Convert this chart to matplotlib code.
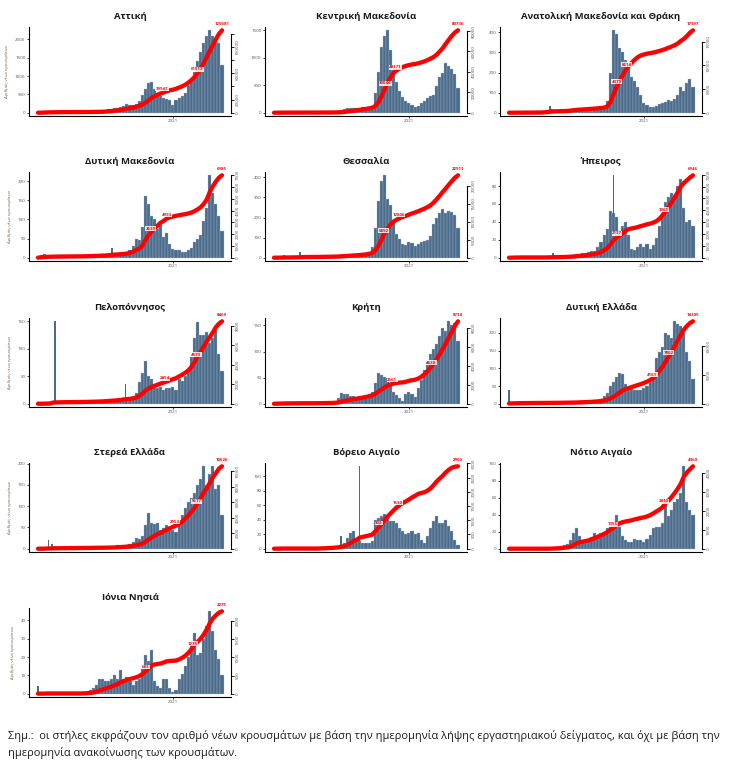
import numpy as np
import pandas as pd
import matplotlib
matplotlib.use("Agg")
import matplotlib.pyplot as plt
import matplotlib.dates as mdates
from matplotlib.ticker import MaxNLocator

plt.rcParams["font.family"] = ["Open Sans", "DejaVu Sans"]

# Weekly bins (start on Monday), Feb 2020 - Apr 2021
weeks = pd.date_range("2020-02-24", periods=61, freq="7D")

regions = ["Αττική", "Κεντρική Μακεδονία", "Ανατολική Μακεδονία και Θράκη",
           "Δυτική Μακεδονία", "Θεσσαλία", "Ήπειρος",
           "Πελοπόννησος", "Κρήτη", "Δυτική Ελλάδα",
           "Στερεά Ελλάδα", "Βόρειο Αιγαίο", "Νότιο Αιγαίο",
           "Ιόνια Νησιά"]

# typical daily new cases in each week (height of the bars)
attiki = [2, 15, 35, 40, 35, 30, 20, 15, 10, 8,
          5, 5, 4, 5, 5, 6, 8, 10, 12, 15,
          20, 30, 60, 90, 110, 120, 130, 150, 190, 240,
          220, 200, 230, 330, 480, 650, 800, 850, 650, 550,
          450, 400, 380, 350, 200, 350, 400, 450, 550, 750,
          850, 1100, 1400, 1650, 1900, 2100, 2250, 2100, 2050, 1900,
          1300]
k_makedonia = [0, 2, 5, 5, 4, 3, 3, 2, 2, 2,
               1, 1, 1, 1, 2, 2, 3, 3, 4, 5,
               10, 15, 30, 60, 80, 80, 90, 80, 90, 100,
               100, 110, 130, 350, 750, 1200, 1400, 1500, 1150, 850,
               550, 400, 290, 220, 170, 140, 100, 130, 180, 220,
               260, 300, 330, 480, 650, 720, 900, 850, 800, 700,
               450]
am_thraki = [0, 0, 1, 1, 1, 1, 1, 1, 1, 1,
             2, 5, 10, 12, 20, 8, 5, 5, 5, 8,
             15, 20, 18, 12, 10, 12, 12, 10, 12, 15,
             15, 20, 60, 200, 410, 390, 320, 300, 260, 220,
             180, 160, 130, 90, 50, 40, 30, 30, 35, 45,
             50, 55, 65, 60, 70, 90, 130, 110, 150, 170,
             130]
d_makedonia = [2, 8, 10, 5, 3, 2, 2, 1, 1, 1,
               1, 1, 1, 1, 1, 1, 2, 3, 3, 3,
               4, 4, 4, 8, 6, 8, 6, 6, 8, 10,
               20, 30, 50, 45, 80, 160, 140, 110, 100, 75,
               85, 55, 65, 35, 22, 20, 20, 15, 15, 20,
               25, 40, 50, 60, 95, 130, 215, 170, 140, 110,
               70]
thessalia = [0, 1, 3, 2, 5, 3, 2, 3, 3, 8,
             3, 2, 2, 2, 2, 2, 3, 3, 3, 4,
             5, 8, 12, 12, 14, 12, 12, 14, 15, 18,
             20, 28, 55, 150, 280, 380, 410, 290, 260, 180,
             120, 95, 70, 65, 80, 75, 60, 70, 80, 85,
             90, 110, 170, 200, 220, 240, 220, 230, 225, 210,
             150]
ipeiros = [0, 0, 2, 1, 1, 0, 0, 0, 0, 0,
           0, 0, 0, 1, 1, 1, 1, 1, 1, 2,
           2, 3, 4, 4, 5, 5, 6, 7, 8, 12,
           18, 25, 32, 52, 50, 45, 30, 35, 40, 25,
           10, 9, 12, 15, 12, 15, 10, 14, 22, 35,
           50, 62, 68, 72, 70, 80, 88, 55, 40, 42,
           35]
peloponnisos = [0, 0, 1, 2, 3, 3, 3, 2, 2, 1,
                1, 1, 1, 1, 1, 1, 2, 2, 2, 2,
                3, 3, 5, 6, 5, 6, 7, 6, 10, 8,
                8, 12, 20, 40, 55, 78, 50, 45, 30, 28,
                30, 25, 28, 28, 30, 25, 45, 42, 50, 60,
                85, 120, 148, 125, 125, 130, 110, 120, 135, 90,
                60]
kriti = [0, 1, 2, 2, 2, 1, 1, 1, 1, 1,
         0, 0, 0, 0, 1, 1, 1, 1, 2, 2,
         3, 10, 20, 18, 18, 15, 14, 13, 14, 15,
         16, 18, 22, 40, 58, 55, 52, 50, 35, 22,
         16, 10, 5, 18, 22, 18, 12, 30, 45, 65,
         80, 95, 105, 115, 130, 145, 140, 158, 150, 155,
         120]
d_ellada = [2, 5, 3, 3, 3, 2, 1, 1, 1, 1,
            1, 1, 1, 1, 1, 1, 1, 2, 2, 2,
            2, 2, 3, 4, 5, 5, 6, 6, 8, 10,
            12, 22, 30, 50, 60, 75, 88, 85, 55, 40,
            45, 38, 40, 38, 45, 50, 60, 80, 130, 145,
            160, 200, 195, 185, 233, 225, 220, 200, 145, 120,
            70]
sterea = [0, 0, 2, 2, 2, 3, 1, 1, 1, 1,
          1, 1, 1, 2, 1, 1, 1, 1, 2, 2,
          1, 1, 2, 2, 2, 3, 8, 5, 6, 8,
          10, 15, 25, 22, 30, 55, 84, 60, 58, 60,
          45, 48, 55, 50, 45, 40, 55, 80, 95, 110,
          120, 130, 150, 165, 194, 150, 175, 194, 140, 150,
          80]
v_aigaio = [0, 0, 1, 1, 0, 0, 0, 0, 0, 0,
            0, 0, 0, 0, 0, 1, 2, 1, 2, 2,
            3, 3, 5, 8, 15, 22, 25, 15, 10, 8,
            8, 8, 10, 40, 42, 45, 48, 42, 38, 38,
            35, 28, 25, 20, 22, 25, 20, 22, 12, 8,
            18, 28, 38, 45, 35, 35, 40, 32, 25, 12,
            5]
n_aigaio = [0, 0, 0, 0, 0, 0, 0, 0, 0, 0,
            0, 0, 0, 0, 1, 2, 2, 3, 4, 6,
            10, 18, 24, 15, 10, 8, 10, 14, 18, 16,
            18, 20, 24, 28, 25, 40, 25, 15, 10, 8,
            8, 12, 10, 10, 8, 12, 16, 24, 25, 25,
            30, 56, 38, 45, 55, 58, 65, 97, 55, 45,
            40]
ionia = [0, 0, 0, 1, 0, 0, 0, 0, 0, 0,
         0, 0, 0, 0, 0, 1, 1, 2, 3, 5,
         8, 8, 7, 7, 8, 10, 8, 13, 8, 9,
         7, 5, 7, 8, 14, 21, 18, 24, 7, 4,
         3, 8, 8, 3, 1, 2, 8, 11, 15, 20,
         26, 33, 21, 22, 30, 37, 45, 34, 24, 19,
         10]

series = [attiki, k_makedonia, am_thraki, d_makedonia, thessalia, ipeiros,
          peloponnisos, kriti, d_ellada, sterea, v_aigaio, n_aigaio, ionia]

# single-day outbreaks that stand out from the weekly level
spike_dates = [[], [], ["2020-05-31"], ["2020-08-15"],
               ["2020-03-21", "2020-04-27"], ["2020-06-07", "2020-10-23"],
               ["2020-04-06", "2020-09-14"], [], ["2020-02-28"],
               ["2020-03-22", "2020-03-31"], ["2020-07-29", "2020-09-10"],
               [], ["2020-02-28"]]
spike_values = [[], [], [35], [25], [15, 30], [5, 92], [150, 35], [], [40],
                [20, 12], [18, 114], [], [4]]

# total cases at the end of the period (red line end label)
totals = [125681, 80736, 17397, 6985, 22911, 6946, 8469, 8714,
          14305, 10626, 2900, 4360, 2275]

# intermediate labels on the cumulative line
label_dates = [("2020-12-07", "2021-02-25"), ("2020-11-08", "2020-12-01"),
               ("2020-10-31", "2020-11-22"), ("2020-11-10", "2020-12-17"),
               ("2020-11-04", "2020-12-08"), ("2020-10-31", "2021-02-15"),
               ("2020-12-13", "2021-02-23"), ("2020-11-23", "2021-02-20"),
               ("2021-01-19", "2021-02-26"), ("2021-01-05", "2021-02-23"),
               ("2020-10-24", "2020-12-06"), ("2020-10-22", "2021-02-15"),
               ("2020-10-30", "2021-02-14")]
label_texts = [("39947", "61513"), ("30046", "48171"), ("4379", "8614"),
               ("2639", "4993"), ("6892", "12806"), ("2137", "3961"),
               ("2454", "4573"), ("2561", "4620"), ("4151", "7802"),
               ("2953", "5617"), ("902", "1530"), ("1355", "2410"),
               ("683", "1275")]

W, H = 730, 766
col_left = [29, 265, 500]
row_top = [27, 172, 318, 463, 608]
AX_W, AX_H = 202, 89

bar_color = "#4a6b8a"
tick_color = "#555555"

fig = plt.figure(figsize=(W / 100, H / 100), dpi=100)

x = mdates.date2num(weeks + pd.Timedelta(days=3.5))
x0 = mdates.date2num(weeks[0])
x1 = mdates.date2num(weeks[-1] + pd.Timedelta(days=7))
pad = 0.04 * (x1 - x0)

for k, (name, vals) in enumerate(zip(regions, series)):
    r, c = divmod(k, 3)
    rect = [col_left[c] / W, 1 - (row_top[r] + AX_H) / H, AX_W / W, AX_H / H]
    ax = fig.add_axes(rect)
    vals = np.array(vals, dtype=float)
    ax.bar(x, vals, width=7, color=bar_color, edgecolor="#a9bacb", linewidth=0.25)

    # weekly case counts: 7 days at the weekly level plus the outbreaks
    weekly = 7 * vals
    sx = mdates.date2num(pd.to_datetime(spike_dates[k])) if spike_dates[k] else np.array([])
    sv = np.array(spike_values[k], dtype=float)
    if len(sv):
        ax.bar(sx, sv, width=3.5, color=bar_color, linewidth=0)
        for xs, v in zip(sx, sv):
            weekly[np.argmin(np.abs(x - xs))] += v
    m = max(vals.max(), sv.max() if len(sv) else 0)
    ax.set_ylim(-0.04 * m, 1.04 * m)
    ax.set_xlim(x0 - pad, x1 + pad)
    lt = [t for t in MaxNLocator(nbins=6, steps=[1, 2, 5, 10]).tick_values(0, m) if 0 <= t <= 1.04 * m]
    ax.set_yticks(lt)
    ax.set_yticklabels([f"{int(t)}" for t in lt])
    ax.set_xticks([mdates.date2num(pd.Timestamp("2021-01-01"))])
    ax.set_xticklabels(["2021"])
    ax.tick_params(axis="both", labelsize=3.2, colors="black", labelcolor=tick_color,
                   length=1.5, width=0.5, pad=1)
    for s in ["top", "right"]:
        ax.spines[s].set_visible(False)
    for s in ["left", "bottom"]:
        ax.spines[s].set_linewidth(0.8)
    ax.set_title(name, fontsize=6.8, fontweight="bold", color="#1a1a1a", pad=6)
    if c == 0:
        ax.set_ylabel("Αριθμός νέων κρουσμάτων", fontsize=3.0, color="#6e5a48", labelpad=4)

    # cumulative cases on the right axis
    tot = totals[k]
    cum = np.cumsum(weekly)
    cum = cum / cum[-1] * tot
    ax2 = ax.twinx()
    ax2.plot(x, cum, color="#ff0000", lw=3.1, solid_capstyle="round", solid_joinstyle="round")
    ax2.set_ylim(-0.04 * tot, 1.04 * tot)
    rt = [t for t in MaxNLocator(nbins=7, steps=[1, 2, 5, 10]).tick_values(0, tot) if 0 <= t <= 1.04 * tot]
    labs = []
    last_end = None
    for t in rt:
        s = f"{int(t)}"
        pos = t / (1.08 * tot) * AX_H
        half = len(s) * 2.5 / 2
        if last_end is None or pos - half > last_end + 1:
            labs.append(s)
            last_end = pos + half
        else:
            labs.append("")
    ax2.set_yticks(rt)
    ax2.set_yticklabels(labs)
    ax2.tick_params(axis="y", labelsize=3.2, labelcolor=tick_color, length=2, width=0.6,
                    pad=1.5, labelrotation=90)
    for lbl in ax2.get_yticklabels():
        lbl.set_va("center")
    for s in ["top", "left", "bottom"]:
        ax2.spines[s].set_visible(False)
    ax2.spines["right"].set_linewidth(0.8)
    ax2.spines["right"].set_bounds(0, rt[-1])

    # red labels
    for d, txt in zip(label_dates[k], label_texts[k]):
        xd = mdates.date2num(pd.Timestamp(d))
        yd = np.interp(xd, x, cum)
        ax2.annotate(txt, (xd, yd), xytext=(0, 1.5), textcoords="offset points",
                     ha="center", va="bottom", fontsize=3.2, fontweight="bold", color="#ff0000",
                     bbox=dict(boxstyle="square,pad=0.1", fc="white", ec="none", alpha=0.85))
    ax2.annotate(str(tot), (x[-1], cum[-1]), xytext=(0, 3), textcoords="offset points",
                 ha="center", va="bottom", fontsize=3.2, fontweight="bold", color="#ff0000",
                 bbox=dict(boxstyle="square,pad=0.1", fc="white", ec="none", alpha=0.85))

# footnote
line1 = ("Σημ.:  οι στήλες εκφράζουν τον αριθμό νέων κρουσμάτων με βάση την ημερομηνία "
         "λήψης εργαστηριακού δείγματος, και όχι με βάση την")
line2 = "ημερομηνία ανακοίνωσης των κρουσμάτων."
t1 = fig.text(8 / W, 1 - 736 / H, line1, fontsize=7, color="#1a1a1a", va="center", ha="left")
fig.canvas.draw()
w = t1.get_window_extent().width
fs = 7 * 706 / w
t1.set_fontsize(fs)
fig.text(8 / W, 1 - 753 / H, line2, fontsize=fs, color="#1a1a1a", va="center", ha="left")

fig.savefig("out.png", dpi=100)
